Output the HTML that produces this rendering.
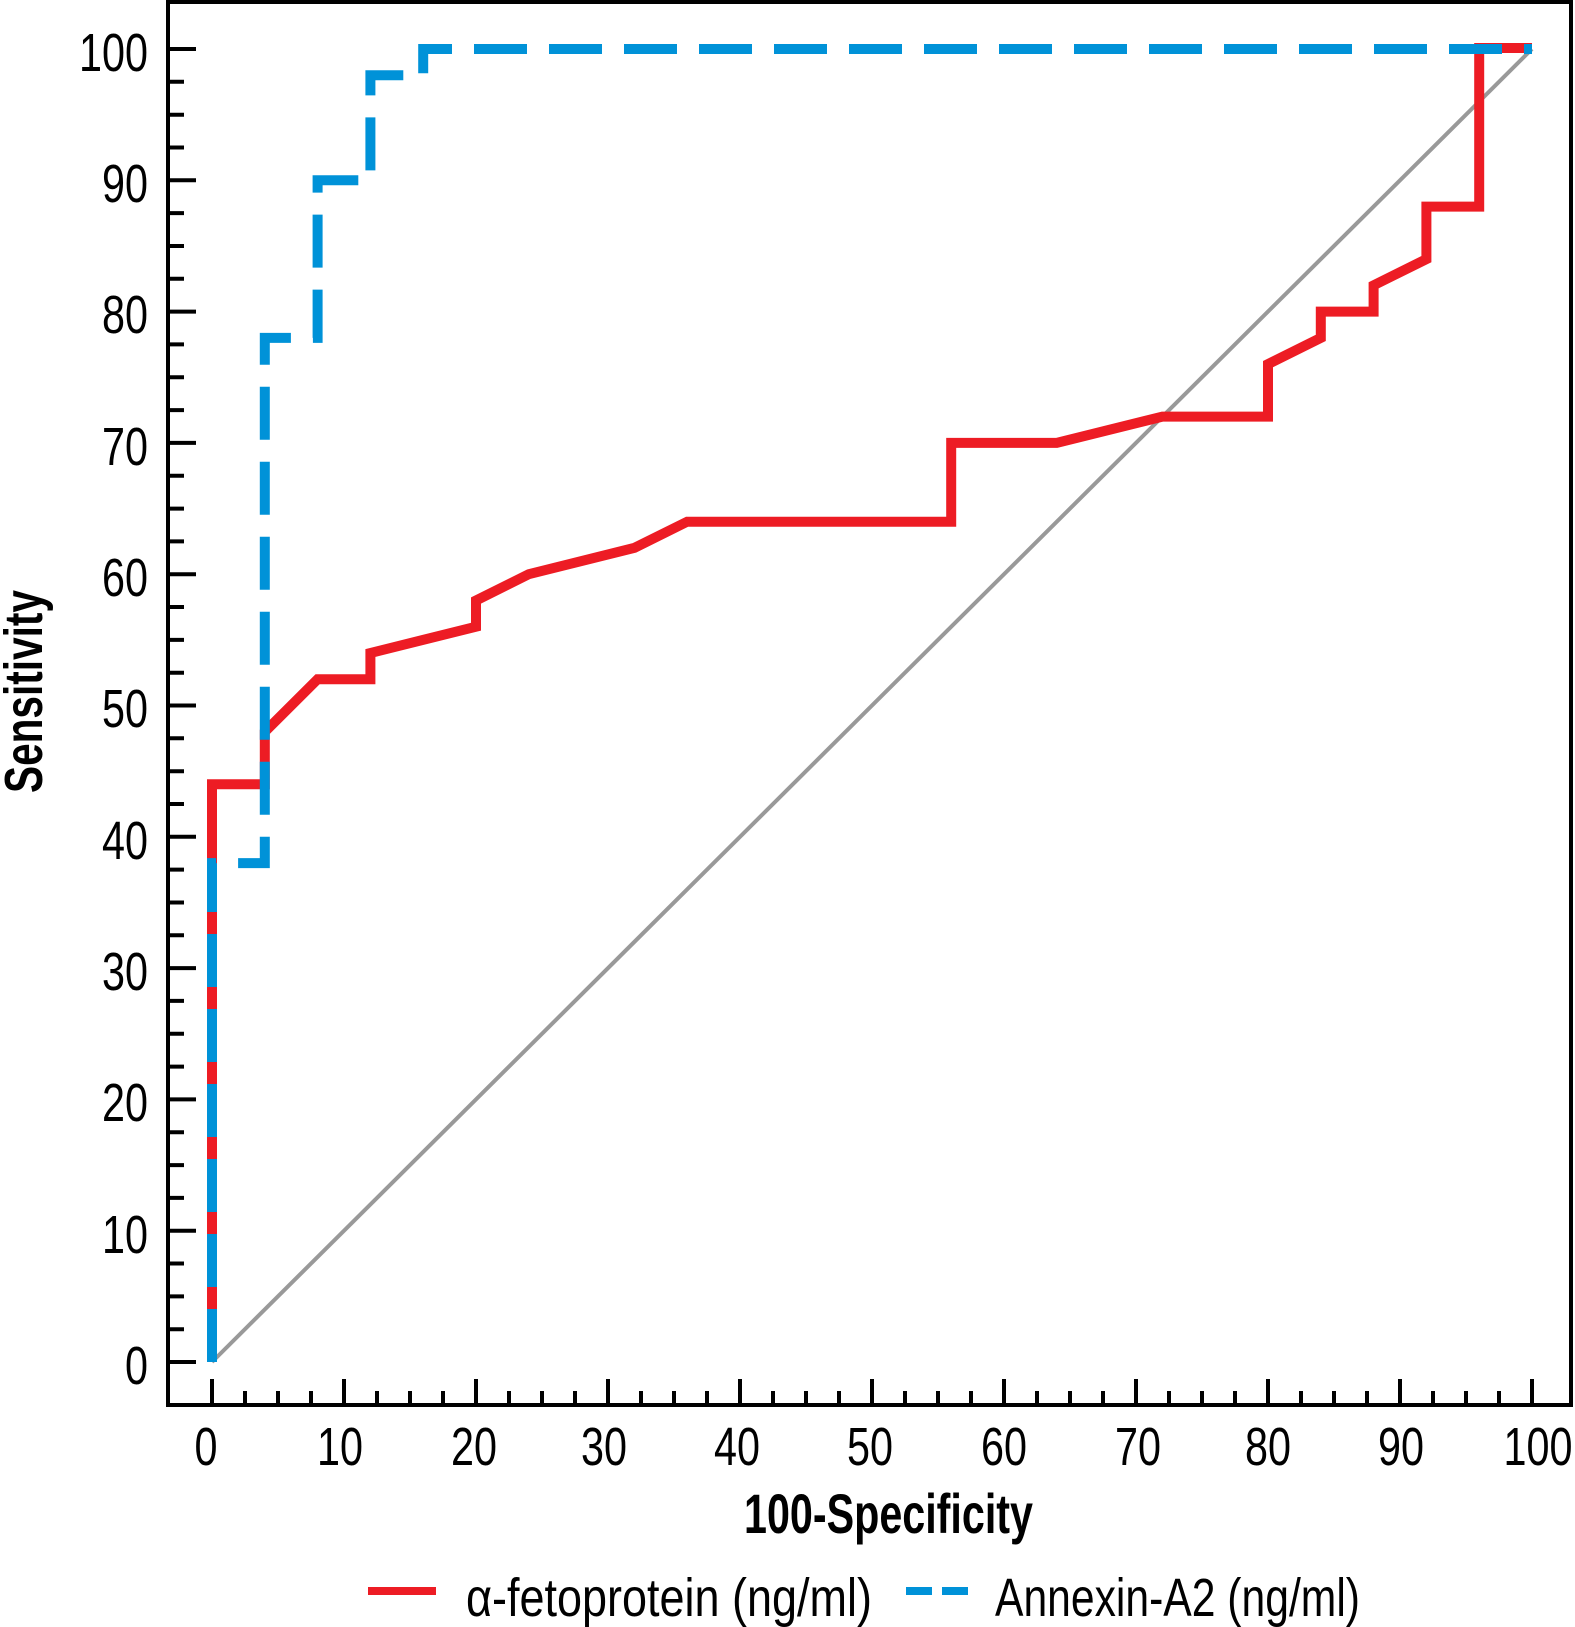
<!DOCTYPE html>
<html><head><meta charset="utf-8"><style>html,body{margin:0;padding:0;background:#fff}svg{display:block}</style></head>
<body>
<svg width="1575" height="1627" viewBox="0 0 1575 1627" xmlns="http://www.w3.org/2000/svg" font-family="Liberation Sans, sans-serif">
<rect x="0" y="0" width="1575" height="1627" fill="#fff"/>
<rect x="168" y="2" width="1403" height="1403" fill="none" stroke="#000" stroke-width="4"/>
<g stroke="#000" stroke-width="4">
<!-- y ticks -->
<path d="M168 49h28M168 180.3h28M168 311.6h28M168 442.9h28M168 574.2h28M168 705.5h28M168 836.8h28M168 968.1h28M168 1099.4h28M168 1230.7h28M168 1362h28"/>
<path d="M168 81.8h16M168 114.7h16M168 147.5h16M168 213.1h16M168 246h16M168 278.8h16M168 344.4h16M168 377.3h16M168 410.1h16M168 475.7h16M168 508.6h16M168 541.4h16M168 607h16M168 639.9h16M168 672.7h16M168 738.3h16M168 771.2h16M168 804h16M168 869.6h16M168 902.5h16M168 935.3h16M168 1000.9h16M168 1033.8h16M168 1066.6h16M168 1132.2h16M168 1165.1h16M168 1197.9h16M168 1263.5h16M168 1296.4h16M168 1329.2h16"/>
<!-- x ticks -->
<path d="M212 1405v-26M344 1405v-26M476 1405v-26M608 1405v-26M740 1405v-26M872 1405v-26M1004 1405v-26M1136 1405v-26M1268 1405v-26M1400 1405v-26M1532 1405v-26"/>
<path d="M245 1405v-14M278 1405v-14M311 1405v-14M377 1405v-14M410 1405v-14M443 1405v-14M509 1405v-14M542 1405v-14M575 1405v-14M641 1405v-14M674 1405v-14M707 1405v-14M773 1405v-14M806 1405v-14M839 1405v-14M905 1405v-14M938 1405v-14M971 1405v-14M1037 1405v-14M1070 1405v-14M1103 1405v-14M1169 1405v-14M1202 1405v-14M1235 1405v-14M1301 1405v-14M1334 1405v-14M1367 1405v-14M1433 1405v-14M1466 1405v-14M1499 1405v-14"/>
</g>
<g font-size="54" fill="#000" text-anchor="end">
<text x="148" y="71" textLength="69" lengthAdjust="spacingAndGlyphs">100</text>
<text x="148" y="202" textLength="46" lengthAdjust="spacingAndGlyphs">90</text>
<text x="148" y="333" textLength="46" lengthAdjust="spacingAndGlyphs">80</text>
<text x="148" y="465" textLength="46" lengthAdjust="spacingAndGlyphs">70</text>
<text x="148" y="596" textLength="46" lengthAdjust="spacingAndGlyphs">60</text>
<text x="148" y="727" textLength="46" lengthAdjust="spacingAndGlyphs">50</text>
<text x="148" y="859" textLength="46" lengthAdjust="spacingAndGlyphs">40</text>
<text x="148" y="990" textLength="46" lengthAdjust="spacingAndGlyphs">30</text>
<text x="148" y="1121" textLength="46" lengthAdjust="spacingAndGlyphs">20</text>
<text x="148" y="1253" textLength="46" lengthAdjust="spacingAndGlyphs">10</text>
<text x="148" y="1384" textLength="23" lengthAdjust="spacingAndGlyphs">0</text>
</g>
<g font-size="54" fill="#000" text-anchor="middle">
<text x="206" y="1465" textLength="23" lengthAdjust="spacingAndGlyphs">0</text>
<text x="340" y="1465" textLength="46" lengthAdjust="spacingAndGlyphs">10</text>
<text x="474" y="1465" textLength="46" lengthAdjust="spacingAndGlyphs">20</text>
<text x="604" y="1465" textLength="46" lengthAdjust="spacingAndGlyphs">30</text>
<text x="737" y="1465" textLength="46" lengthAdjust="spacingAndGlyphs">40</text>
<text x="870" y="1465" textLength="46" lengthAdjust="spacingAndGlyphs">50</text>
<text x="1004" y="1465" textLength="46" lengthAdjust="spacingAndGlyphs">60</text>
<text x="1138" y="1465" textLength="46" lengthAdjust="spacingAndGlyphs">70</text>
<text x="1268" y="1465" textLength="46" lengthAdjust="spacingAndGlyphs">80</text>
<text x="1401" y="1465" textLength="46" lengthAdjust="spacingAndGlyphs">90</text>
<text x="1538" y="1465" textLength="69" lengthAdjust="spacingAndGlyphs">100</text>
</g>
<text x="744" y="1533" font-size="56" font-weight="bold" textLength="289" lengthAdjust="spacingAndGlyphs">100-Specificity</text>
<text transform="translate(42,793) rotate(-90)" font-size="54" font-weight="bold" textLength="203" lengthAdjust="spacingAndGlyphs">Sensitivity</text>
<!-- diagonal -->
<line x1="212" y1="1362" x2="1532" y2="49" stroke="#999" stroke-width="4"/>
<!-- red -->
<polyline fill="none" stroke="#ed1c24" stroke-width="10" stroke-linejoin="miter" points="212,1362 212,784.3 264.8,784.3 264.8,731.8 317.6,679.2 370.4,679.2 370.4,653 476,626.7 476,600.5 528.8,574.2 634.4,547.9 687.2,521.7 951.2,521.7 951.2,442.9 1056.8,442.9 1162.4,416.6 1268,416.6 1268,364.1 1320.8,337.9 1320.8,311.6 1373.6,311.6 1373.6,285.3 1426.4,259.1 1426.4,206.6 1479.2,206.6 1479.2,48 1532,48"/>
<!-- blue -->
<polyline fill="none" stroke="#0092d8" stroke-width="10" stroke-dasharray="53 22" points="212,1362 212,863.1 264.8,863.1 264.8,337.9 317.6,337.9 317.6,180.3 370.4,180.3 370.4,75.3 423.2,75.3 423.2,49 1532,49"/>
<!-- legend -->
<line x1="368" y1="1591" x2="436" y2="1591" stroke="#ed1c24" stroke-width="8"/>
<text x="466" y="1616" font-size="54" textLength="406" lengthAdjust="spacingAndGlyphs">α-fetoprotein (ng/ml)</text>
<line x1="906" y1="1591" x2="968" y2="1591" stroke="#0092d8" stroke-width="8" stroke-dasharray="26 10"/>
<text x="995" y="1616" font-size="54" textLength="365" lengthAdjust="spacingAndGlyphs">Annexin-A2 (ng/ml)</text>
</svg>
</body></html>
